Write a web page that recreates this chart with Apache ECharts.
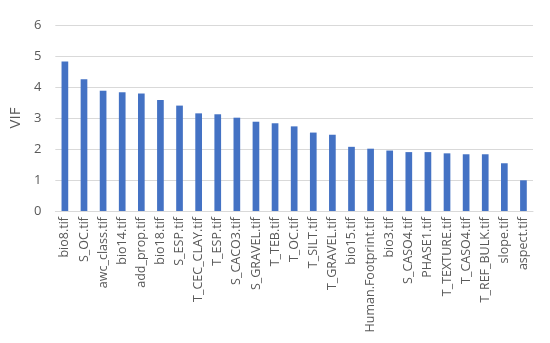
<!DOCTYPE html>
<html><head><meta charset="utf-8">
<script src="https://cdn.jsdelivr.net/npm/echarts@6/dist/echarts.min.js"></script>
<style>html,body{margin:0;padding:0;background:#fff}#c{width:550px;height:343px}</style>
</head><body><div id="c"></div>
<script>
const categories = ["bio8.tif","S_OC.tif","awc_class.tif","bio14.tif","add_prop.tif","bio18.tif","S_ESP.tif","T_CEC_CLAY.tif","T_ESP.tif","S_CACO3.tif","S_GRAVEL.tif","T_TEB.tif","T_OC.tif","T_SILT.tif","T_GRAVEL.tif","bio15.tif","Human.Footprint.tif","bio3.tif","S_CASO4.tif","PHASE1.tif","T_TEXTURE.tif","T_CASO4.tif","T_REF_BULK.tif","slope.tif","aspect.tif"];
const vifValues = [4.82,4.25,3.88,3.83,3.79,3.58,3.40,3.15,3.12,3.01,2.88,2.83,2.73,2.53,2.46,2.07,2.01,1.95,1.90,1.90,1.86,1.83,1.83,1.54,0.99];
const yTicks = {min:0, max:6, interval:1};
const chart = echarts.init(document.getElementById('c'));
chart.setOption({
  animation:false,
  grid:{left:54,right:17,top:25,bottom:132},
  xAxis:{type:'category',data:categories,
    axisLine:{lineStyle:{color:'#d9d9d9'}},axisTick:{show:false},
    axisLabel:{rotate:90,interval:0,color:'#595959',fontSize:12.5,fontFamily:'Open Sans',margin:6}},
  yAxis:{type:'value',min:yTicks.min,max:yTicks.max,interval:yTicks.interval,
    name:'VIF',nameLocation:'middle',nameGap:32,nameRotate:90,
    nameTextStyle:{color:'#595959',fontSize:15,fontFamily:'Open Sans'},
    axisLabel:{color:'#595959',fontSize:13,fontFamily:'Open Sans',margin:14},
    splitLine:{lineStyle:{color:'#d9d9d9'}}},
  series:[{type:'bar',data:vifValues,barWidth:'35%',itemStyle:{color:'#4472C4'}}]
});
</script></body></html>
